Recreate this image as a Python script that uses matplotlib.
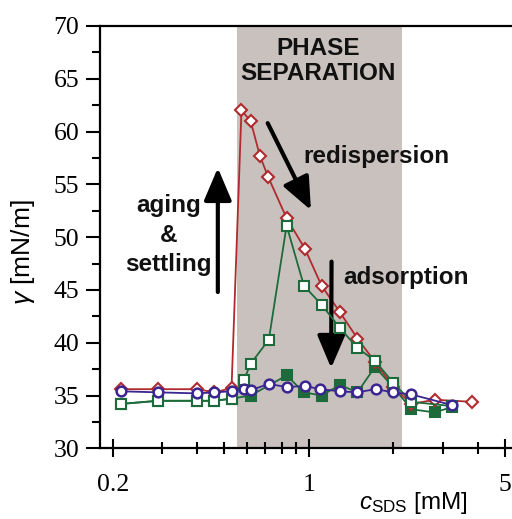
import numpy as np
from matplotlib import pyplot as plt
from matplotlib.ticker import FixedLocator, NullFormatter

plt.rcParams['font.family'] = ['Liberation Sans', 'DejaVu Sans']
plt.rcParams['mathtext.fontset'] = 'custom'
plt.rcParams['mathtext.rm'] = 'Liberation Sans'
plt.rcParams['mathtext.it'] = 'Liberation Sans:italic'
plt.rcParams['mathtext.sf'] = 'Liberation Sans'

# red open diamonds
red_x = [0.213, 0.29, 0.40, 0.46, 0.53, 0.575, 0.62, 0.669, 0.716, 0.833, 0.968,
         1.11, 1.29, 1.49, 1.72, 2.0, 2.32, 2.81, 3.83]
red_y = [35.6, 35.6, 35.6, 35.3, 35.7, 62.0, 61.0, 57.7, 55.7, 51.8, 48.9,
         45.4, 42.9, 40.4, 38.2, 35.8, 34.2, 34.6, 34.4]

# green open squares
gro_x = [0.213, 0.29, 0.40, 0.46, 0.53, 0.587, 0.62, 0.72, 0.833, 0.96,
         1.11, 1.29, 1.49, 1.72, 2.0, 2.32, 3.23]
gro_y = [34.2, 34.5, 34.5, 34.5, 34.7, 36.5, 38.0, 40.3, 51.1, 45.4,
         43.6, 41.4, 39.5, 38.3, 36.2, 34.4, 34.0]

# green filled squares
grf_x = [0.213, 0.29, 0.40, 0.46, 0.53, 0.62, 0.833, 0.96, 1.11, 1.29,
         1.49, 1.72, 2.0, 2.32, 2.81, 3.23]
grf_y = [34.2, 34.5, 34.5, 34.5, 34.7, 35.0, 36.9, 35.3, 35.0, 36.0,
         35.3, 37.7, 35.8, 33.7, 33.4, 33.9]

# blue open circles
blu_x = [0.213, 0.29, 0.40, 0.46, 0.53, 0.587, 0.62, 0.72, 0.833, 0.968,
         1.10, 1.29, 1.48, 1.73, 2.0, 2.32, 3.23]
blu_y = [35.4, 35.3, 35.2, 35.3, 35.4, 35.6, 35.5, 36.1, 35.8, 35.9,
         35.6, 35.4, 35.3, 35.6, 35.3, 35.1, 34.1]

phase_sep = (0.554, 2.15)
major_x = [0.2, 1, 5]
minor_x = [0.3, 0.4, 0.5, 0.6, 0.7, 0.8, 0.9, 2, 3, 4]

red = '#b02a2e'
green = '#1d6b3a'
blue = '#3b2590'

fig = plt.figure(figsize=(5.12, 5.19), dpi=100)
ax = fig.add_axes([100/512, (519-448.3)/519, 412/512, 422.3/519])

ax.axvspan(*phase_sep, color='#c9c1be', lw=0, zorder=0)

ax.plot(grf_x, grf_y, '-s', color=green, mfc=green, mec=green, ms=6.5, mew=1.5, lw=1.3, zorder=2)
ax.plot(red_x, red_y, '-D', color=red, mfc='white', mec=red, ms=6.5, mew=1.5, lw=1.3, zorder=3)
ax.plot(gro_x, gro_y, '-s', color=green, mfc='white', mec=green, ms=6.5, mew=1.5, lw=1.3, zorder=4)
ax.plot(blu_x, blu_y, '-o', color=blue, mfc='white', mec=blue, ms=7, mew=1.8, lw=1.3, zorder=5)

ax.set_xscale('log')
ax.set_xlim(0.18, 5.3)
ax.set_ylim(30, 70)
ax.xaxis.set_major_locator(FixedLocator(major_x))
ax.xaxis.set_minor_locator(FixedLocator(minor_x))
ax.xaxis.set_minor_formatter(NullFormatter())
ax.set_xticklabels(['0.2', '1', '5'])
ax.set_yticks(np.arange(30, 71, 5))
ax.set_yticks(np.arange(32.5, 70, 5), minor=True)

for s in ['left', 'bottom', 'top']:
    ax.spines[s].set_linewidth(1.6)
ax.spines['right'].set_visible(False)

ax.tick_params(axis='x', which='major', direction='inout', length=13, width=1.5, pad=12)
ax.tick_params(axis='x', which='minor', direction='inout', length=8.5, width=1.5)
ax.tick_params(axis='y', which='major', direction='out', length=10, width=1.5, pad=5)
ax.tick_params(axis='y', which='minor', direction='out', length=6, width=1.5)
for lab in ax.get_xticklabels() + ax.get_yticklabels():
    lab.set_fontfamily('Liberation Serif')
    lab.set_fontsize(18.5)

ax.set_ylabel(r'$\gamma$ [mN/m]', fontsize=19)
ax.yaxis.set_label_coords(-0.152, 0.465)
ax.set_xlabel(r'$c_{\mathrm{SDS}}$ [mM]', fontsize=17.5)
ax.xaxis.set_label_coords(0.76, -0.098)

tkw = dict(transform=ax.transAxes, fontsize=17.5, fontweight='bold', ha='center', color='#111111')
ax.text(0.529, 0.917, 'PHASE\nSEPARATION', va='center', linespacing=1.1, **tkw)
ax.text(0.670, 0.676, 'redispersion', va='baseline', **tkw)
ax.text(0.742, 0.389, 'adsorption', va='baseline', **tkw)
ax.text(0.167, 0.505, 'aging\n&\nsettling', va='center', linespacing=1.38, **tkw)

akw = dict(arrowstyle='-|>,head_length=2.0,head_width=0.85', color='black', lw=3, shrinkA=0, shrinkB=0)
ax.annotate('', xy=(0.286, 0.664), xytext=(0.286, 0.370), xycoords='axes fraction', arrowprops=akw)
ax.annotate('', xy=(0.512, 0.564), xytext=(0.407, 0.770), xycoords='axes fraction', arrowprops=akw)
ax.annotate('', xy=(0.561, 0.190), xytext=(0.562, 0.442), xycoords='axes fraction', arrowprops=akw)

plt.savefig('out.png', dpi=100)
